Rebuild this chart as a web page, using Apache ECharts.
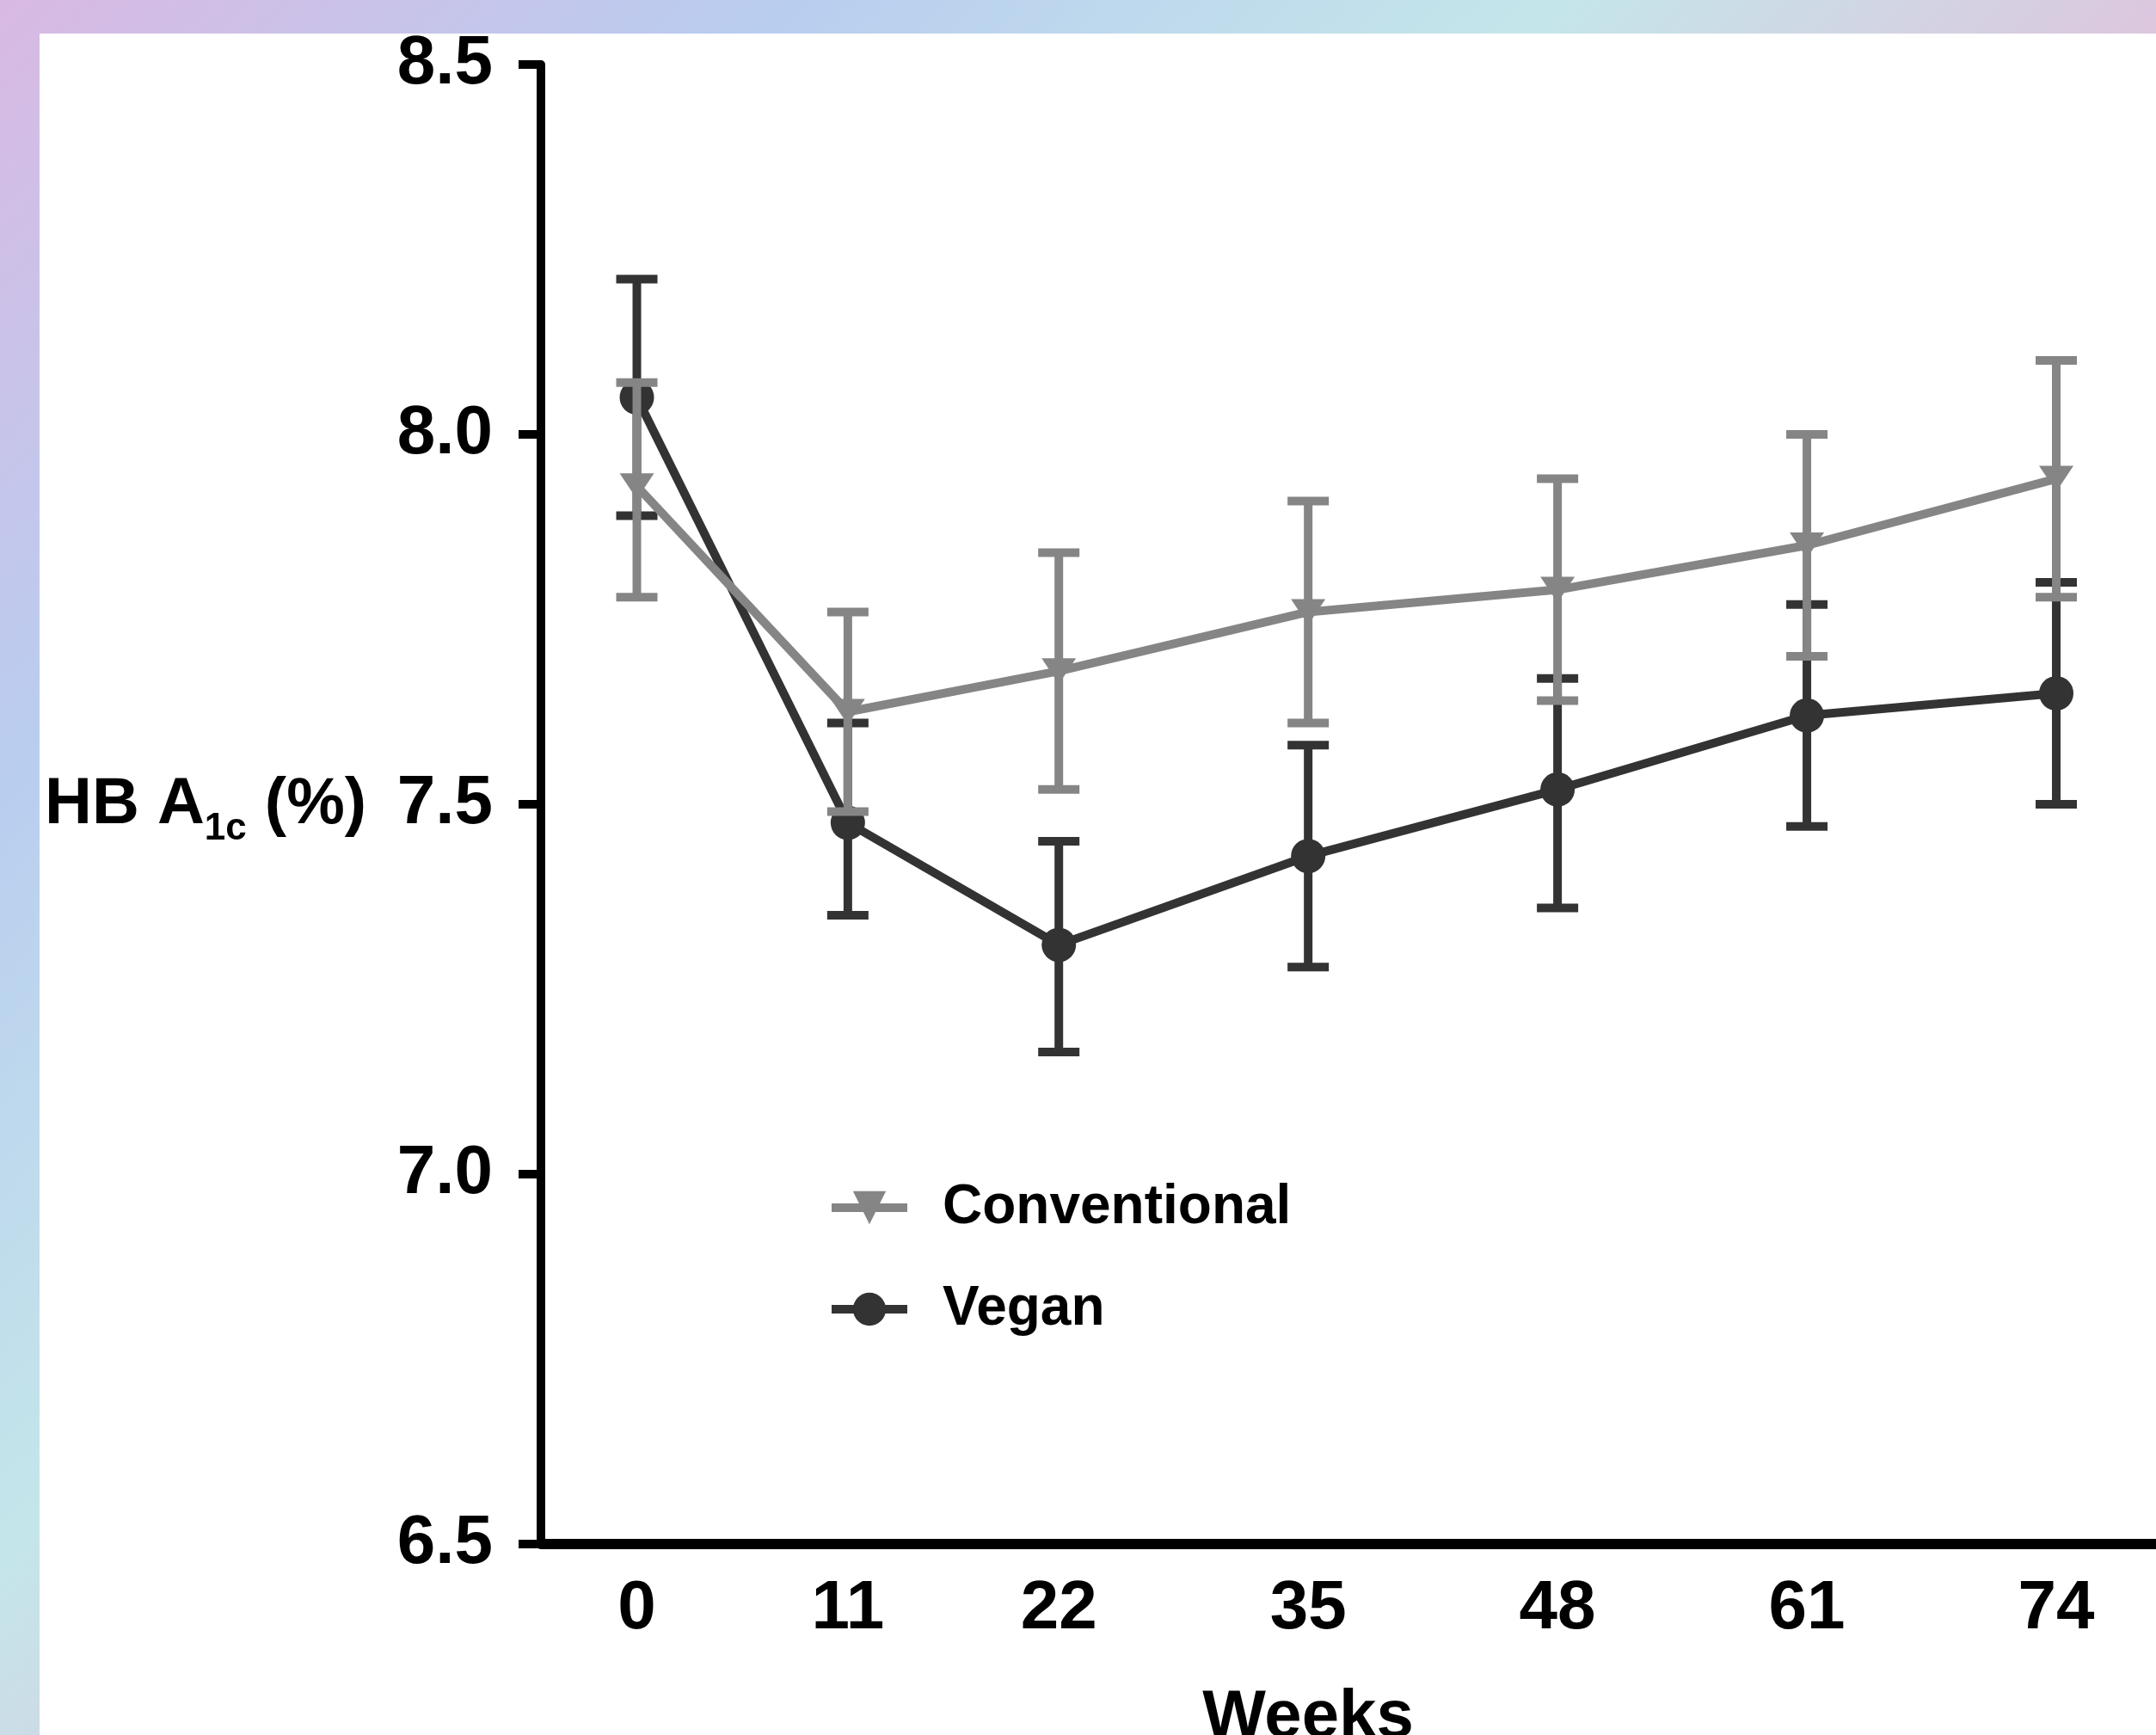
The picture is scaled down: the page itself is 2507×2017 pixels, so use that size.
<!DOCTYPE html>
<html>
<head>
<meta charset="utf-8">
<script src="https://cdn.jsdelivr.net/npm/echarts@6/dist/echarts.min.js"></script>
<style>
  html, body { margin: 0; padding: 0; }
  body {
    width: 2507px; height: 2017px; overflow: hidden; position: relative;
    background: linear-gradient(135deg, #d9b9e3 0%, #b9cdef 20%, #c4e6ea 40%, #e2bfdc 60%, #bcc8ee 80%, #d2e2ec 100%);
  }
  #panel { position: absolute; left: 46px; top: 39px; right: 0; bottom: 0; background: #fff; }
  #chart { position: absolute; left: 0; top: 0; width: 2507px; height: 2017px; }
</style>
</head>
<body>
<div id="panel"></div>
<div id="chart"></div>
<script>
// Weeks of follow-up and HbA1c means with error bar ends
const weeks = [0, 11, 22, 35, 48, 61, 74];
const conventionalMean = [7.93, 7.625, 7.68, 7.76, 7.79, 7.85, 7.94];
const conventionalLow = [7.78, 7.49, 7.52, 7.61, 7.64, 7.70, 7.78];
const conventionalHigh = [8.07, 7.76, 7.84, 7.91, 7.94, 8.00, 8.10];
const veganMean = [8.05, 7.475, 7.31, 7.43, 7.52, 7.62, 7.65];
const veganLow = [7.89, 7.35, 7.165, 7.28, 7.36, 7.47, 7.50];
const veganHigh = [8.21, 7.61, 7.45, 7.58, 7.67, 7.77, 7.80];

const GREY = '#858585';
const DARK = '#333333';
const FONT = 'Liberation Sans, Arial, sans-serif';

function pairs(xs, ys) {
    return xs.map((x, i) => [x, ys[i]]);
}

function errorBarRenderer(color) {
    return function (params, api) {
        const x = api.value(0);
        const lo = api.coord([x, api.value(1)]);
        const hi = api.coord([x, api.value(2)]);
        const hw = 24;
        const style = { stroke: color, lineWidth: 10 };
        return {
            type: 'group',
            children: [
                { type: 'line', shape: { x1: hi[0], y1: hi[1], x2: lo[0], y2: lo[1] }, style: style },
                { type: 'line', shape: { x1: hi[0] - hw, y1: hi[1], x2: hi[0] + hw, y2: hi[1] }, style: style },
                { type: 'line', shape: { x1: lo[0] - hw, y1: lo[1], x2: lo[0] + hw, y2: lo[1] }, style: style }
            ]
        };
    };
}

const chart = echarts.init(document.getElementById('chart'), null, { renderer: 'canvas' });

const option = {
    backgroundColor: 'transparent',
    animation: false,
    grid: { left: 629, right: 0, top: 75, bottom: 222, containLabel: false, outerBoundsMode: 'none' },
    xAxis: {
        type: 'value',
        min: -5,
        max: 79.2,
        axisLine: { show: true, onZero: false, lineStyle: { color: '#000', width: 12 } },
        axisTick: { show: false },
        splitLine: { show: false },
        axisLabel: {
            customValues: weeks,
            margin: 36,
            color: '#000',
            fontFamily: FONT,
            fontWeight: 'bold',
            fontSize: 80
        }
    },
    yAxis: {
        type: 'value',
        min: 6.5,
        max: 8.5,
        interval: 0.5,
        axisLine: { show: true, onZero: false, lineStyle: { color: '#000', width: 10 } },
        axisTick: { show: true, length: 26, lineStyle: { color: '#000', width: 10 } },
        splitLine: { show: false },
        axisLabel: {
            margin: 56,
            color: '#000',
            fontFamily: FONT,
            fontWeight: 'bold',
            fontSize: 80,
            formatter: v => v.toFixed(1)
        }
    },
    legend: {
        orient: 'vertical',
        left: 962,
        top: 1372,
        padding: 0,
        itemWidth: 88,
        itemHeight: 48,
        itemGap: 54,
        data: ['Conventional', 'Vegan'],
        lineStyle: { width: 10 },
        textStyle: {
            color: '#000',
            fontFamily: FONT,
            fontWeight: 'bold',
            fontSize: 64,
            lineHeight: 48,
            padding: [0, 0, 0, 36]
        }
    },
    graphic: [
        {
            type: 'text',
            left: 52,
            top: 898,
            silent: true,
            style: {
                text: '{m|HB A}{s|1c}{m| (%)}',
                fill: '#000',
                rich: {
                    m: { fontFamily: FONT, fontWeight: 'bold', fontSize: 76, lineHeight: 76, verticalAlign: 'top', fill: '#000' },
                    s: { fontFamily: FONT, fontWeight: 'bold', fontSize: 44, lineHeight: 44, verticalAlign: 'top', padding: [44, 0, 0, 0], fill: '#000' }
                }
            }
        },
        {
            type: 'text',
            x: 1521,
            y: 1958,
            silent: true,
            style: {
                text: 'Weeks',
                fill: '#000',
                font: 'bold 78px ' + FONT,
                textAlign: 'center',
                align: 'center',
                textVerticalAlign: 'top',
                verticalAlign: 'top'
            }
        }
    ],
    series: [
        {
            name: 'Vegan errors',
            type: 'custom',
            z: 1,
            silent: true,
            renderItem: errorBarRenderer(DARK),
            encode: { x: 0, y: [1, 2] },
            data: weeks.map((w, i) => [w, veganLow[i], veganHigh[i]])
        },
        {
            name: 'Vegan',
            type: 'line',
            z: 2,
            data: pairs(weeks, veganMean),
            symbol: 'circle',
            symbolSize: 40,
            lineStyle: { color: DARK, width: 10 },
            itemStyle: { color: DARK }
        },
        {
            name: 'Conventional errors',
            type: 'custom',
            z: 3,
            silent: true,
            renderItem: errorBarRenderer(GREY),
            encode: { x: 0, y: [1, 2] },
            data: weeks.map((w, i) => [w, conventionalLow[i], conventionalHigh[i]])
        },
        {
            name: 'Conventional',
            type: 'line',
            z: 4,
            data: pairs(weeks, conventionalMean),
            symbol: 'triangle',
            symbolRotate: 180,
            symbolSize: [40, 30],
            lineStyle: { color: GREY, width: 10 },
            itemStyle: { color: GREY }
        }
    ]
};

chart.setOption(option);
</script>
</body>
</html>
